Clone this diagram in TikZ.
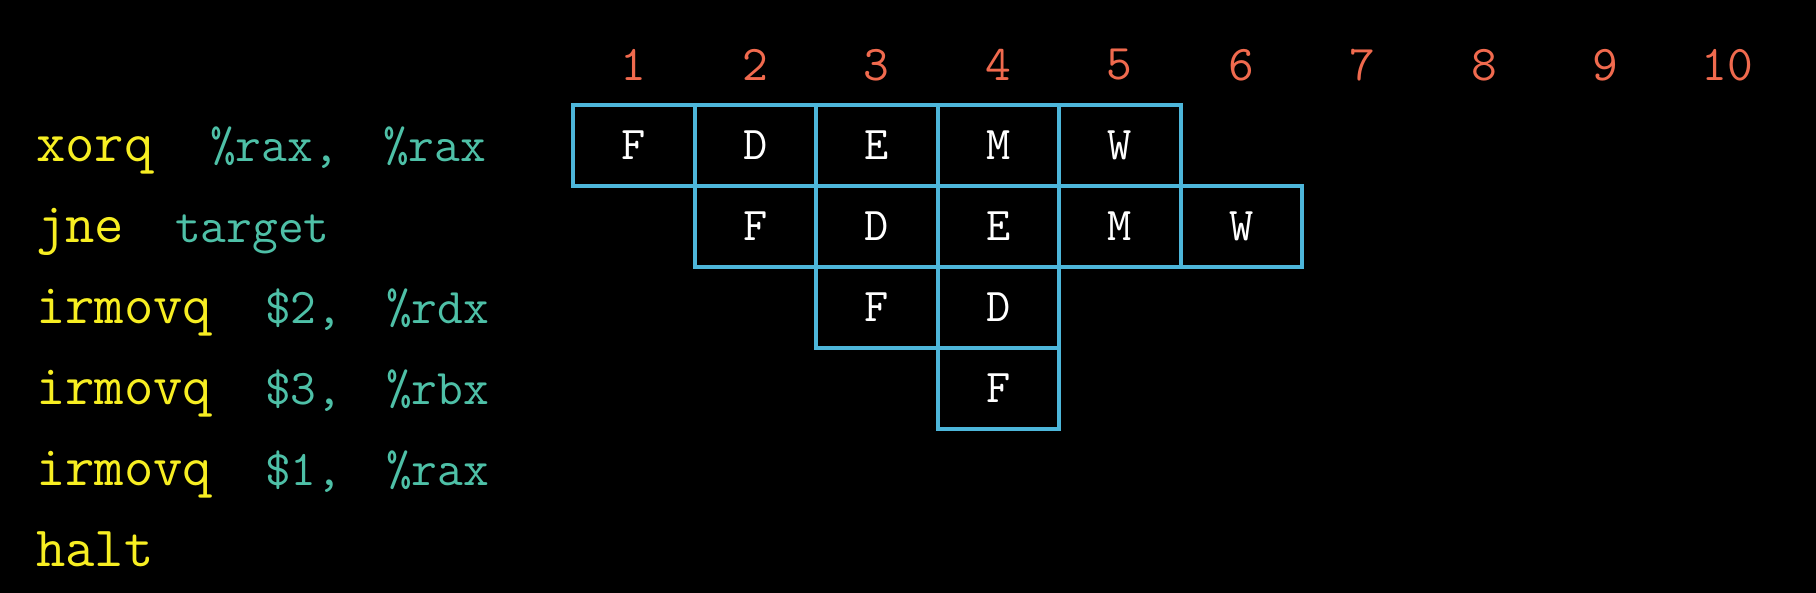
\documentclass[tikz,border=0pt]{standalone}
\usepackage{xcolor}
\definecolor{boxblue}{HTML}{4DB6DA}
\definecolor{insyel}{HTML}{F7EE22}
\definecolor{opteal}{HTML}{4EC0A7}
\definecolor{numred}{HTML}{F06A4E}
\tikzset{
  cell/.style={draw=boxblue, line width=4pt, minimum width=121.5pt, minimum height=81pt,
    inner sep=0pt, text=white, font=\fontsize{47}{50}\selectfont\ttfamily},
  cyc/.style={text=numred, inner sep=0pt, font=\fontsize{50}{52}\selectfont\ttfamily},
  ins/.style={anchor=base west, inner sep=0pt, text=insyel, font=\fontsize{57}{60}\selectfont\ttfamily},
  opd/.style={anchor=base west, inner sep=0pt, text=opteal, font=\fontsize{50}{52}\selectfont\ttfamily}
}
\begin{document}
\begin{tikzpicture}[x=1pt,y=-1pt]
\fill[black] (0,0) rectangle (1816,593);
\useasboundingbox (0,0) rectangle (1816,593);
% cycle numbers
\foreach \k in {1,...,10} {
  \node[cyc] (n\k) at ({573+60.75+121.5*(\k-1)},65) {\k};
}
% pipeline cells
\foreach \r/\c/\t in {1/1/F,1/2/D,1/3/E,1/4/M,1/5/W,
                      2/2/F,2/3/D,2/4/E,2/5/M,2/6/W,
                      3/3/F,3/4/D,
                      4/4/F} {
  \node[cell] (c\r\c) at ({573+60.75+121.5*(\c-1)},{145.5+81*(\r-1)}) {\t};
}
% instructions
\node[ins] (i1) at (36,161.5) {xorq};
\node[opd] (o1a) at (210,161.5) {\%rax,};
\node[opd] (o1b) at (383,161.5) {\%rax};
\node[ins] (i2) at (36,242.5) {jne};
\node[opd] (o2a) at (175,242.5) {target};
\node[ins] (i3) at (36,323.5) {irmovq};
\node[opd] (o3a) at (265,323.5) {\$2,};
\node[opd] (o3b) at (386,323.5) {\%rdx};
\node[ins] (i4) at (36,404.5) {irmovq};
\node[opd] (o4a) at (265,404.5) {\$3,};
\node[opd] (o4b) at (386,404.5) {\%rbx};
\node[ins] (i5) at (36,485.5) {irmovq};
\node[opd] (o5a) at (265,485.5) {\$1,};
\node[opd] (o5b) at (386,485.5) {\%rax};
\node[ins] (i6) at (36,566.5) {halt};
\end{tikzpicture}
\end{document}
